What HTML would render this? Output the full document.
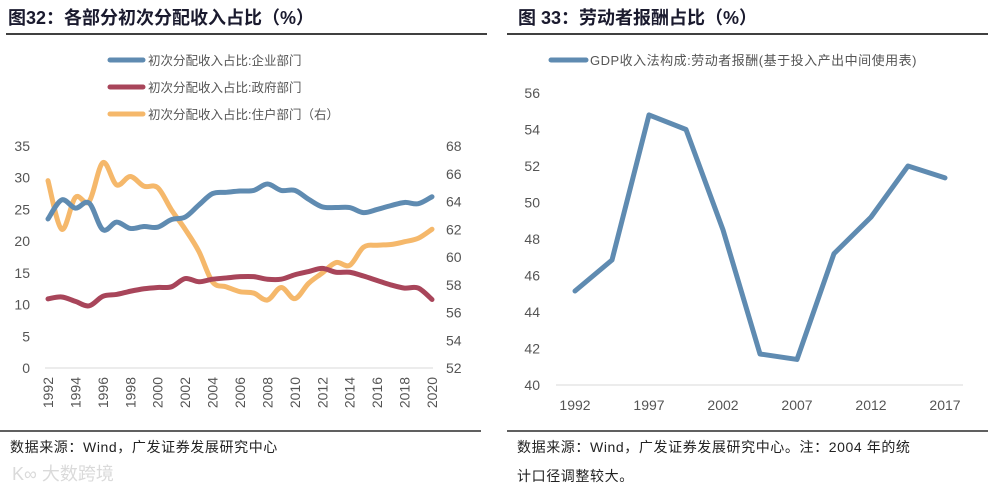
<!DOCTYPE html>
<html><head><meta charset="utf-8">
<style>
html,body{margin:0;padding:0;background:#fff;}
body{width:989px;height:492px;overflow:hidden;position:relative;font-family:"Liberation Sans","Noto Sans CJK SC",sans-serif;}
svg{position:absolute;left:0;top:0;}
</style></head>
<body>
<svg id="chart" width="989" height="492" xmlns="http://www.w3.org/2000/svg">
  <g>
    <text x="8" y="24" font-size="18" font-weight="bold" fill="#1a1a2e" font-family="Liberation Sans,Noto Sans CJK SC,sans-serif">图32：各部分初次分配收入占比（%）</text>
    <line x1="6" y1="34" x2="487" y2="34" stroke="#000" stroke-width="1.5"/>
  </g>
  <g>
    <text x="518" y="24" font-size="18" font-weight="bold" fill="#1a1a2e" font-family="Liberation Sans,Noto Sans CJK SC,sans-serif">图 33：劳动者报酬占比（%）</text>
    <line x1="507" y1="34" x2="988" y2="34" stroke="#000" stroke-width="1.5"/>
  </g>
  <g id="left"></g>
  <g id="right"></g>
  <line x1="0" y1="431" x2="481" y2="431" stroke="#000" stroke-width="1.2"/>
  <line x1="507" y1="431" x2="988" y2="431" stroke="#000" stroke-width="1.2"/>
  <text x="10" y="452" font-size="14" fill="#222" letter-spacing="0.6">数据来源：Wind，广发证券发展研究中心</text>
  <text x="517" y="452" font-size="14" fill="#222" letter-spacing="0.6">数据来源：Wind，广发证券发展研究中心。注：2004 年的统</text>
  <text x="517" y="481" font-size="14" fill="#222" letter-spacing="0.6">计口径调整较大。</text>
  <text x="12" y="480" font-size="18" fill="#dadada">K∞ 大数跨境</text>
</svg>
<script>
const years = [];
for (let y = 1992; y <= 2020; y++) years.push(y);
const enterprise = [23.5,26.5,25.2,26,21.8,23,22,22.3,22.2,23.4,23.8,25.7,27.5,27.7,27.9,28,29,28,28,26.6,25.4,25.3,25.3,24.5,25,25.6,26.1,25.9,27];
const government = [10.9,11.2,10.5,9.8,11.3,11.6,12.1,12.5,12.7,12.8,14.1,13.6,14,14.2,14.4,14.4,14,14,14.7,15.2,15.7,15.1,15.1,14.5,13.8,13.1,12.6,12.6,10.8];
const household = [65.5,62.0,64.3,64.0,66.8,65.2,65.8,65.1,65.0,63.4,62.0,60.4,58.2,57.85,57.5,57.4,56.9,57.8,57.0,58.1,58.85,59.6,59.4,60.7,60.85,60.9,61.1,61.35,62.0];
const leftTicks = [0,5,10,15,20,25,30,35];
const rightTicks = [52,54,56,58,60,62,64,66,68];
const ioYears = ["1992","1995","1997","2000","2002","2005","2007","2010","2012","2015","2017"];
const laborShare = [45.15,46.85,54.8,54.0,48.5,41.7,41.4,47.2,49.2,52.0,51.35];
const rTicks = [40,42,44,46,48,50,52,54,56];

const NS = "http://www.w3.org/2000/svg";
function mk(tag, attrs, parent, txt) {
  const e = document.createElementNS(NS, tag);
  for (const k in attrs) e.setAttribute(k, attrs[k]);
  if (txt !== undefined) e.textContent = txt;
  parent.appendChild(e);
  return e;
}
function smooth(pts) {
  let d = "M" + pts[0][0] + "," + pts[0][1];
  for (let i = 0; i < pts.length - 1; i++) {
    const p0 = pts[i - 1] || pts[i], p1 = pts[i], p2 = pts[i + 1], p3 = pts[i + 2] || p2;
    const c1x = p1[0] + (p2[0] - p0[0]) / 6, c1y = p1[1] + (p2[1] - p0[1]) / 6;
    const c2x = p2[0] - (p3[0] - p1[0]) / 6, c2y = p2[1] - (p3[1] - p1[1]) / 6;
    d += " C" + c1x + "," + c1y + " " + c2x + "," + c2y + " " + p2[0] + "," + p2[1];
  }
  return d;
}

// LEFT CHART
const L = document.getElementById("left");
const x0 = 48, x1 = 432, yb = 368, yt = 146;
const xL = i => x0 + (x1 - x0) * i / (years.length - 1);
const yLeft = v => yb - (v - 0) / 35 * (yb - yt);
const yRight = v => yb - (v - 52) / 16 * (yb - yt);

leftTicks.forEach(t => {
  const e = mk("text", {x: 30, y: yLeft(t) + 5, "font-size": 14, fill: "#555", "text-anchor": "end"}, L, t);
  
  
});
rightTicks.forEach(t => {
  const e = mk("text", {x: 446, y: yRight(t) + 5, "font-size": 14, fill: "#555"}, L, t);
  
  
});
const ax = mk("line", {x1: 45, y1: yb, x2: 433, y2: yb, stroke: "#d9d9d9", "stroke-width": 1}, L);


years.forEach((y, i) => {
  if (i % 2) return;
  const cx = xL(i) + 5, cy = 377;
  const e = mk("text", {x: cx, y: cy, "font-size": 14, fill: "#555", "text-anchor": "end", transform: "rotate(-90 " + cx + " " + cy + ")"}, L, y);
  
  
});
const series = [
  {vals: household, col: "#f5b86b", sc: yRight, name: "household-line"},
  {vals: government, col: "#a8455a", sc: yLeft, name: "government-line"},
  {vals: enterprise, col: "#5f8bb1", sc: yLeft, name: "enterprise-line"}
];
series.forEach(s => {
  const p = mk("path", {d: smooth(s.vals.map((v, i) => [xL(i), s.sc(v)])), fill: "none", stroke: s.col, "stroke-width": 5, "stroke-linejoin": "round", "stroke-linecap": "round"}, L);
  
  
});
const legend = [
  ["#5f8bb1", "初次分配收入占比:企业部门", 60],
  ["#a8455a", "初次分配收入占比:政府部门", 87],
  ["#f5b86b", "初次分配收入占比:住户部门（右）", 114]
];
legend.forEach(l => {
  const ln = mk("line", {x1: 110, y1: l[2], x2: 143, y2: l[2], stroke: l[0], "stroke-width": 5, "stroke-linecap": "round"}, L);
  
  
  const t = mk("text", {x: 148, y: l[2] + 5, "font-size": 12.5, fill: "#555"}, L, l[1]);
  
  
});

// RIGHT CHART
const R = document.getElementById("right");
const rx0 = 575, rdx = 37, ryb = 385, ryt = 93;
const xR = i => rx0 + rdx * i;
const yR = v => ryb - (v - 40) / 16 * (ryb - ryt);
rTicks.forEach(t => {
  const e = mk("text", {x: 540, y: yR(t) + 5, "font-size": 14, fill: "#555", "text-anchor": "end"}, R, t);
  
  
});
const rax = mk("line", {x1: 556, y1: ryb, x2: 963, y2: ryb, stroke: "#d9d9d9", "stroke-width": 1}, R);


ioYears.forEach((y, i) => {
  if (i % 2) return;
  const e = mk("text", {x: xR(i), y: 410, "font-size": 14, fill: "#555", "text-anchor": "middle"}, R, y);
  
  
});
const rl = mk("polyline", {points: laborShare.map((v, i) => xR(i) + "," + yR(v)).join(" "), fill: "none", stroke: "#5f8bb1", "stroke-width": 5, "stroke-linejoin": "round", "stroke-linecap": "round"}, R);


const rls = mk("line", {x1: 551, y1: 60, x2: 586, y2: 60, stroke: "#5f8bb1", "stroke-width": 5, "stroke-linecap": "round"}, R);


const rlt = mk("text", {x: 590, y: 65, "font-size": 13, fill: "#555", "letter-spacing": "0.5"}, R, "GDP收入法构成:劳动者报酬(基于投入产出中间使用表)");


</script>
</body></html>
